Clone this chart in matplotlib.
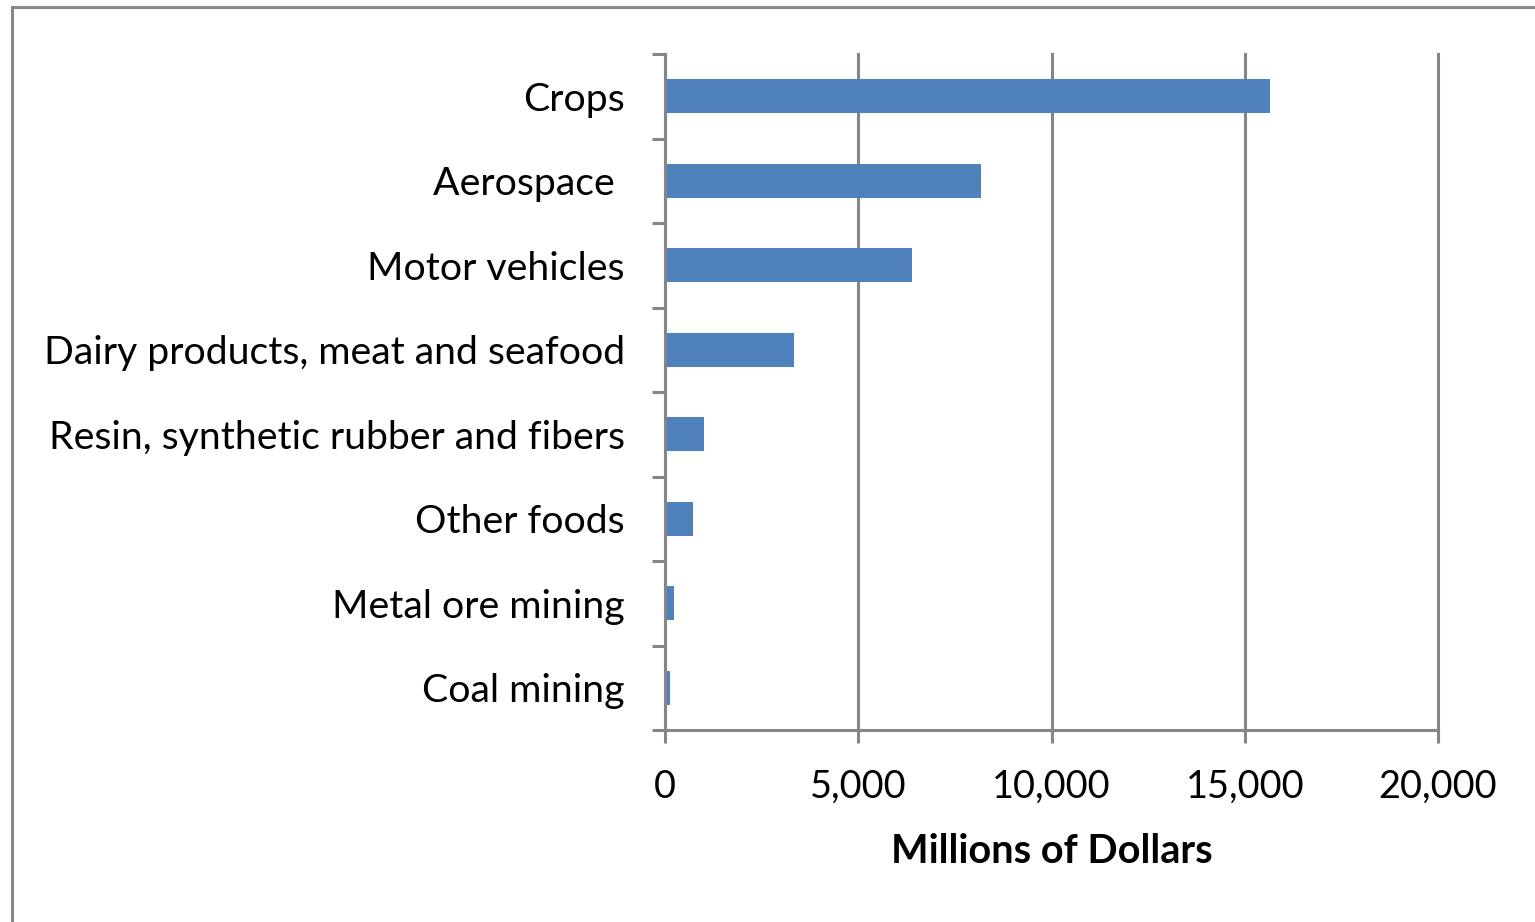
import matplotlib
matplotlib.use("Agg")
import matplotlib.pyplot as plt
from matplotlib.lines import Line2D
from matplotlib.ticker import FuncFormatter

plt.rcParams["font.family"] = ["Lato", "DejaVu Sans"]

categories = [
    "Crops",
    "Aerospace ",
    "Motor vehicles",
    "Dairy products, meat and seafood",
    "Resin, synthetic rubber and fibers",
    "Other foods",
    "Metal ore mining",
    "Coal mining",
]
values = [15660, 8180, 6400, 3340, 1010, 720, 230, 135]
x_ticks = [0, 5000, 10000, 15000, 20000]
x_label = "Millions of Dollars"

BAR = "#4F81BD"
GRID = "#868686"
DPI = 100

fig = plt.figure(figsize=(15.35, 9.22), dpi=DPI)
ax = fig.add_axes([665 / 1535, 1 - 730 / 922, 773 / 1535, 676 / 922])

pos = list(range(len(categories)))
ax.barh(pos, values, height=0.4, color=BAR, zorder=3)

ax.set_xlim(0, 20000)
ax.set_ylim(len(categories) - 0.5, -0.5)

ax.set_xticks(x_ticks)
ax.xaxis.set_major_formatter(FuncFormatter(lambda v, p: f"{int(v):,}"))
ax.set_yticks(pos)
ax.set_yticklabels(categories)
ax.set_yticks([i - 0.5 for i in range(len(categories) + 1)], minor=True)

lw = 2.2
ax.tick_params(axis="y", which="major", length=0, pad=29, labelsize=28.3)
ax.tick_params(axis="y", which="minor", length=9.4, width=lw, color=GRID,
               direction="out")
ax.tick_params(axis="x", which="major", length=9.4, width=lw, color=GRID,
               direction="out", pad=18.5, labelsize=27.3)

ax.grid(axis="x", color=GRID, linewidth=lw, zorder=1)
for gl in ax.xaxis.get_gridlines():
    gl.set_clip_on(False)
for side in ("top", "right"):
    ax.spines[side].set_visible(False)
for side in ("left", "bottom"):
    ax.spines[side].set_color(GRID)
    ax.spines[side].set_linewidth(lw)
    ax.spines[side].set_zorder(4)

ax.set_xlabel(x_label, fontsize=28.5, fontweight="bold", labelpad=20)

# chart frame (left and top edges)
fig.add_artist(Line2D([11.5 / 1535, 11.5 / 1535], [0, 1 - 7.5 / 922],
                      transform=fig.transFigure, color="#888888", lw=2.2))
fig.add_artist(Line2D([11.5 / 1535, 1], [1 - 7.5 / 922, 1 - 7.5 / 922],
                      transform=fig.transFigure, color="#888888", lw=2.2))

fig.savefig("out.png", dpi=DPI)
